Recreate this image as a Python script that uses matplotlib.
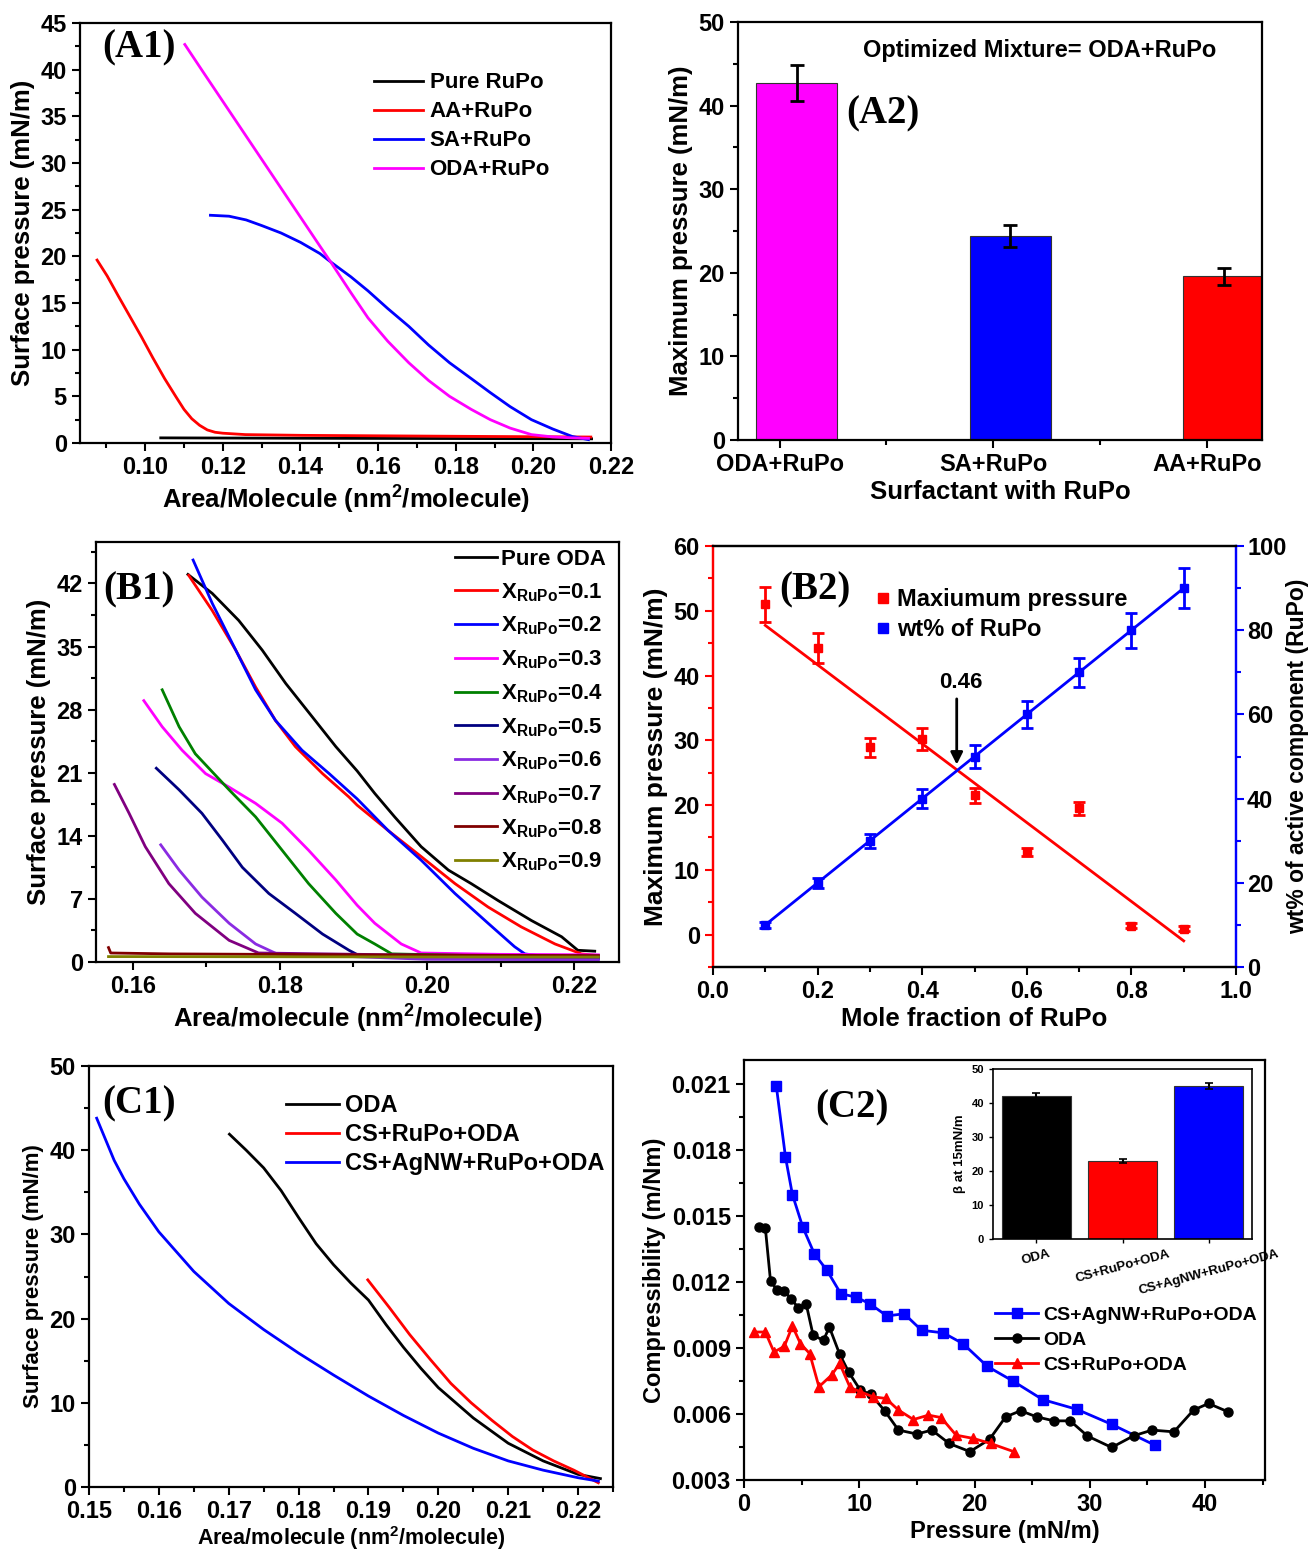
import matplotlib
matplotlib.use("Agg")
import numpy as np
import matplotlib.pyplot as plt
from matplotlib.ticker import MultipleLocator, FormatStrFormatter
from matplotlib.lines import Line2D

plt.rcParams.update({
    "font.family": ["Liberation Sans", "DejaVu Sans"],
    "font.weight": "bold",
    "axes.labelweight": "bold",
    "mathtext.fontset": "custom",
    "mathtext.rm": "Liberation Sans:bold",
    "mathtext.bf": "Liberation Sans:bold",
    "mathtext.it": "Liberation Sans:bold",
    "mathtext.default": "bf",
    "axes.linewidth": 1.6,
})

# ---------------- (A1) data ----------------
a1_pure_x = [0.104, 0.150, 0.215]
a1_pure_y = [0.55, 0.50, 0.45]
a1_aa_x = [0.0876, 0.0902, 0.0930, 0.0960, 0.0990, 0.1020, 0.1050, 0.1080, 0.1100,
           0.1120, 0.1140, 0.1160, 0.1180, 0.1200, 0.1258, 0.1405, 0.1800, 0.2148]
a1_aa_y = [19.6, 17.9, 15.8, 13.6, 11.4, 9.1, 6.9, 4.9, 3.6, 2.6, 1.9, 1.4, 1.15, 1.05,
           0.9, 0.82, 0.72, 0.64]
a1_sa_x = [0.1168, 0.1216, 0.1260, 0.1300, 0.1350, 0.1400, 0.1450, 0.1481, 0.1530,
           0.1574, 0.1625, 0.1679, 0.1730, 0.1784, 0.1840, 0.1889, 0.1940, 0.1995,
           0.2050, 0.2100, 0.2142]
a1_sa_y = [24.4, 24.3, 23.9, 23.3, 22.5, 21.5, 20.3, 19.3, 17.8, 16.3, 14.4, 12.5,
           10.5, 8.6, 6.9, 5.4, 3.9, 2.5, 1.5, 0.7, 0.36]
a1_oda_x = [0.1102, 0.1150, 0.1200, 0.1250, 0.1300, 0.1350, 0.1400, 0.1450, 0.1481,
            0.1530, 0.1574, 0.1625, 0.1679, 0.1730, 0.1784, 0.1840, 0.1889, 0.1940,
            0.1995, 0.2050, 0.2100, 0.2142]
a1_oda_y = [42.7, 39.7, 36.6, 33.5, 30.4, 27.3, 24.2, 21.1, 19.2, 16.1, 13.4, 10.9,
            8.6, 6.7, 5.0, 3.6, 2.5, 1.6, 0.9, 0.65, 0.55, 0.5]

# ---------------- (A2) data ----------------
a2_labels = ["ODA+RuPo", "SA+RuPo", "AA+RuPo"]
a2_values = [42.7, 24.4, 19.6]
a2_errors = [2.2, 1.3, 1.0]
a2_colors = ["#FF00FF", "#0000FF", "#FF0000"]

# ---------------- (B1) data ----------------
b1_labels = ["Pure ODA"] + [r"$X_{RuPo}$=0.%d" % i for i in range(1, 10)]
b1_colors = ["#000000", "#FF0000", "#0000FF", "#FF00FF", "#008000", "#000080",
             "#8A2BE2", "#800080", "#800000", "#808000"]
b1_x = [
    [0.1675, 0.1708, 0.1744, 0.1776, 0.1808, 0.1844, 0.1876, 0.1905, 0.1929, 0.1956,
     0.1992, 0.2029, 0.2060, 0.2097, 0.2142, 0.2183, 0.2205, 0.2228],
    [0.1676, 0.1708, 0.1740, 0.1767, 0.1794, 0.1821, 0.1858, 0.1894, 0.1905, 0.1947,
     0.1992, 0.2038, 0.2083, 0.2128, 0.2174, 0.2210, 0.2228],
    [0.1682, 0.1708, 0.1740, 0.1767, 0.1794, 0.1830, 0.1867, 0.1905, 0.1947, 0.1992,
     0.2038, 0.2083, 0.2119, 0.2133, 0.2180, 0.2233],
    [0.1615, 0.1640, 0.1667, 0.1699, 0.1731, 0.1767, 0.1803, 0.1839, 0.1876, 0.1905,
     0.1929, 0.1965, 0.1992, 0.2100, 0.2233],
    [0.1640, 0.1663, 0.1685, 0.1731, 0.1767, 0.1803, 0.1839, 0.1876, 0.1905, 0.1929,
     0.1952, 0.2100, 0.2233],
    [0.1632, 0.1663, 0.1694, 0.1722, 0.1749, 0.1785, 0.1821, 0.1858, 0.1894, 0.1908,
     0.2050, 0.2233],
    [0.1638, 0.1663, 0.1694, 0.1731, 0.1767, 0.1796, 0.2000, 0.2233],
    [0.1575, 0.1595, 0.1617, 0.1649, 0.1685, 0.1731, 0.1771, 0.2000, 0.2233],
    [0.1567, 0.1570, 0.1650, 0.1900, 0.2233],
    [0.1567, 0.1600, 0.1800, 0.2000, 0.2233],
]
b1_y = [
    [43.0, 40.9, 37.9, 34.6, 30.9, 27.2, 23.9, 21.2, 18.7, 16.1, 12.8, 10.2, 8.7, 6.8,
     4.6, 2.8, 1.3, 1.2],
    [42.9, 39.0, 34.6, 30.5, 26.8, 23.9, 20.9, 18.3, 17.4, 14.6, 11.7, 8.7, 6.1, 3.9,
     2.0, 0.9, 0.75],
    [44.6, 39.8, 34.6, 30.2, 26.8, 23.5, 20.9, 18.1, 14.6, 11.3, 7.6, 4.3, 1.7, 0.9,
     0.4, 0.35],
    [29.0, 26.1, 23.5, 20.9, 19.4, 17.6, 15.4, 12.4, 9.1, 6.3, 4.3, 2.0, 1.0, 0.85, 0.8],
    [30.2, 26.1, 23.1, 19.1, 16.1, 12.4, 8.7, 5.4, 3.1, 2.0, 0.9, 0.65, 0.6],
    [21.5, 19.1, 16.5, 13.5, 10.5, 7.6, 5.4, 3.1, 1.3, 0.7, 0.5, 0.45],
    [13.0, 10.2, 7.2, 4.3, 2.0, 0.9, 0.3, 0.25],
    [19.7, 16.5, 12.8, 8.7, 5.4, 2.4, 1.0, 0.75, 0.7],
    [1.6, 1.0, 0.9, 0.8, 0.7],
    [0.6, 0.6, 0.58, 0.56, 0.55],
]

# ---------------- (B2) data ----------------
b2_x = [0.1, 0.2, 0.3, 0.4, 0.5, 0.6, 0.7, 0.8, 0.9]
b2_press = [51.0, 44.3, 28.9, 30.2, 21.5, 12.8, 19.5, 1.4, 0.9]
b2_press_err = [2.7, 2.3, 1.5, 1.7, 1.2, 0.6, 1.0, 0.4, 0.4]
b2_wt = [10, 20, 30, 40, 50, 60, 70, 80, 90]
b2_wt_err = [0.8, 1.2, 1.7, 2.2, 2.8, 3.2, 3.5, 4.2, 4.7]
b2_cross = 0.46

# ---------------- (C1) data ----------------
c1_oda_x = [0.1701, 0.1725, 0.1750, 0.1775, 0.1800, 0.1825, 0.1850, 0.1875, 0.1900,
            0.1925, 0.1950, 0.1975, 0.2000, 0.2050, 0.2100, 0.2150, 0.2200, 0.2232]
c1_oda_y = [41.9, 40.0, 37.9, 35.2, 32.0, 28.9, 26.4, 24.2, 22.2, 19.3, 16.6, 14.1,
            11.8, 8.2, 5.2, 3.1, 1.5, 1.0]
c1_rupo_x = [0.1899, 0.1930, 0.1959, 0.1989, 0.2018, 0.2047, 0.2077, 0.2106, 0.2135,
             0.2165, 0.2194, 0.2229]
c1_rupo_y = [24.6, 21.3, 18.1, 15.1, 12.3, 10.0, 7.9, 6.0, 4.4, 3.1, 2.0, 0.5]
c1_agnw_x = [0.1511, 0.1536, 0.1550, 0.1572, 0.1600, 0.1650, 0.1700, 0.1750, 0.1800,
             0.1850, 0.1900, 0.1950, 0.2000, 0.2050, 0.2100, 0.2150, 0.2200, 0.2229]
c1_agnw_y = [43.8, 38.8, 36.6, 33.6, 30.3, 25.6, 21.8, 18.7, 15.9, 13.3, 10.8, 8.5,
             6.4, 4.6, 3.1, 2.0, 1.1, 0.7]

# ---------------- (C2) data ----------------
c2_agnw_x = [2.8, 3.6, 4.2, 5.1, 6.1, 7.2, 8.4, 9.7, 10.9, 12.4, 13.9, 15.4, 17.3, 19.0,
             21.1, 23.3, 25.9, 28.9, 31.9, 35.7]
c2_agnw_y = [0.02093, 0.01768, 0.01598, 0.0145, 0.01329, 0.01253, 0.01147, 0.01132,
             0.01102, 0.01046, 0.01056, 0.00981, 0.00969, 0.0092, 0.00817, 0.00751,
             0.00666, 0.00621, 0.00553, 0.00457]
c2_oda_x = [1.26, 1.85, 2.3, 2.9, 3.5, 4.1, 4.7, 5.4, 6.0, 6.9, 7.4, 8.3, 9.1, 10.1, 11.0,
            12.2, 13.4, 15.0, 16.3, 17.8, 19.6, 21.3, 22.7, 24.0, 25.4, 26.9, 28.3, 29.8,
            31.9, 33.8, 35.4, 37.3, 39.0, 40.3, 42.0]
c2_oda_y = [0.0145, 0.01447, 0.01205, 0.01162, 0.01159, 0.01123, 0.01084, 0.01099,
            0.00958, 0.00935, 0.00996, 0.00872, 0.00789, 0.00708, 0.0069, 0.00615,
            0.00527, 0.00509, 0.00527, 0.00466, 0.00429, 0.00485, 0.00587, 0.00615,
            0.00587, 0.00569, 0.00569, 0.005, 0.00448, 0.00501, 0.00527, 0.00519,
            0.00618, 0.00648, 0.0061]
c2_rupo_x = [0.85, 1.85, 2.6, 3.5, 4.2, 4.9, 5.7, 6.5, 7.6, 8.3, 9.2, 10.1, 11.2, 12.3,
             13.4, 14.7, 16.0, 17.1, 18.4, 19.9, 21.4, 23.4]
c2_rupo_y = [0.00973, 0.00973, 0.00882, 0.00908, 0.0100, 0.0092, 0.00875, 0.00724,
             0.00777, 0.0083, 0.00721, 0.00701, 0.00678, 0.00671, 0.00618, 0.00575,
             0.00595, 0.00584, 0.00504, 0.00489, 0.00466, 0.00429]
inset_labels = ["ODA", "CS+RuPo+ODA", "CS+AgNW+RuPo+ODA"]
inset_values = [42.0, 23.0, 45.0]
inset_errors = [0.8, 0.5, 1.0]
inset_colors = ["#000000", "#FF0000", "#0000FF"]

# ======================================================
W, H = 1310, 1554
fig = plt.figure(figsize=(W / 100, H / 100), dpi=100)


def box(l, r, t, b):
    return [l / W, 1 - b / H, (r - l) / W, (b - t) / H]


TICK = 17
LAB = 18.5


def style(ax, xmaj, xmin, ymaj, ymin):
    ax.xaxis.set_major_locator(MultipleLocator(xmaj))
    ax.xaxis.set_minor_locator(MultipleLocator(xmin))
    ax.yaxis.set_major_locator(MultipleLocator(ymaj))
    ax.yaxis.set_minor_locator(MultipleLocator(ymin))
    ax.tick_params(which="major", direction="out", length=6, width=1.5, labelsize=TICK)
    ax.tick_params(which="minor", direction="out", length=3.5, width=1.5)
    ax.tick_params(which="both", top=False, right=False)


panel_font = dict(family=["Liberation Serif", "DejaVu Serif"], fontweight="bold", fontsize=28)

# ---- A1 ----
ax = fig.add_axes(box(80, 611, 23, 443))
ax.plot(a1_pure_x, a1_pure_y, color="black", lw=2, label="Pure RuPo")
ax.plot(a1_aa_x, a1_aa_y, color="#FF0000", lw=2, label="AA+RuPo")
ax.plot(a1_sa_x, a1_sa_y, color="#0000FF", lw=2, label="SA+RuPo")
ax.plot(a1_oda_x, a1_oda_y, color="#FF00FF", lw=2, label="ODA+RuPo")
ax.set_xlim(0.0832, 0.22)
ax.set_ylim(0, 45)
style(ax, 0.02, 0.01, 5, 2.5)
ax.xaxis.set_major_formatter(FormatStrFormatter("%.2f"))
ax.set_xlabel(r"Area/Molecule (nm$^{2}$/molecule)", fontsize=LAB, labelpad=3)
ax.set_ylabel("Surface pressure (mN/m)", fontsize=LAB)
ax.text(0.112, 0.94, "(A1)", transform=ax.transAxes, ha="center", va="center", **panel_font)
ax.legend(loc="upper left", bbox_to_anchor=(0.516, 0.93), frameon=False, fontsize=16,
          handlelength=2.2, labelspacing=0.36, handletextpad=0.3)

# ---- A2 ----
ax = fig.add_axes(box(738, 1262, 22, 440))
pos = np.arange(1, len(a2_values) + 1)
ax.bar(pos + 0.08, a2_values, width=0.38, color=a2_colors, edgecolor="#333333", linewidth=0.8)
ax.errorbar(pos + 0.08, a2_values, yerr=a2_errors, fmt="none", ecolor="black",
            elinewidth=2, capsize=5, capthick=2)
ax.set_xlim(0.805, 3.258)
ax.set_ylim(0, 50)
style(ax, 1, 0.5, 10, 5)
ax.set_xticks(pos)
ax.set_xticklabels(a2_labels)
ax.set_xlabel("Surfactant with RuPo", fontsize=LAB, labelpad=3)
ax.set_ylabel("Maximum pressure (mN/m)", fontsize=LAB)
ax.text(0.575, 0.932, "Optimized Mixture= ODA+RuPo", transform=ax.transAxes,
        ha="center", va="center", fontsize=17)
ax.text(0.276, 0.78, "(A2)", transform=ax.transAxes, ha="center", va="center", **panel_font)

# ---- B1 ----
ax = fig.add_axes(box(96, 619, 542, 962))
for xs, ys, c, lab in zip(b1_x, b1_y, b1_colors, b1_labels):
    ax.plot(xs, ys, color=c, lw=2, label=lab)
ax.set_xlim(0.155, 0.2261)
ax.set_ylim(0, 46.6)
style(ax, 0.02, 0.01, 7, 3.5)
ax.xaxis.set_major_formatter(FormatStrFormatter("%.2f"))
ax.set_xlabel(r"Area/molecule (nm$^{2}$/molecule)", fontsize=LAB, labelpad=3)
ax.set_ylabel("Surface pressure (mN/m)", fontsize=LAB)
ax.text(0.082, 0.885, "(B1)", transform=ax.transAxes, ha="center", va="center", **panel_font)
ax.legend(loc="upper right", bbox_to_anchor=(1.0, 1.015), frameon=False, fontsize=16,
          handlelength=1.9, labelspacing=0.5, handletextpad=0.15, borderaxespad=0.2)

# ---- B2 ----
ax = fig.add_axes(box(713, 1236, 546, 967))
ax2 = ax.twinx()
ax.errorbar(b2_x, b2_press, yerr=b2_press_err, fmt="s", color="#FF0000", ms=6,
            elinewidth=2, capsize=4, capthick=2)
ax2.errorbar(b2_x, b2_wt, yerr=b2_wt_err, fmt="s", color="#0000FF", ms=6,
             elinewidth=2, capsize=4, capthick=2)
k1, c1 = np.polyfit(b2_x, b2_press, 1)
k2, c2 = np.polyfit(b2_x, b2_wt, 1)
xx = np.array([b2_x[0], b2_x[-1]])
ax.plot(xx, k1 * xx + c1, color="#FF0000", lw=2)
ax2.plot(xx, k2 * xx + c2, color="#0000FF", lw=2)
ax.set_xlim(0, 1.0)
ax.set_ylim(-5, 60)
ax2.set_ylim(0, 100)
style(ax, 0.2, 0.1, 10, 5)
ax.xaxis.set_major_formatter(FormatStrFormatter("%.1f"))
ax2.yaxis.set_major_locator(MultipleLocator(20))
ax2.yaxis.set_minor_locator(MultipleLocator(10))
ax2.tick_params(which="major", direction="out", length=6, width=1.5, labelsize=TICK,
                colors="#0000FF", labelcolor="black", pad=2)
ax2.tick_params(which="minor", direction="out", length=3.5, width=1.5, colors="#0000FF")
ax.tick_params(axis="y", which="both", colors="#FF0000", labelcolor="black")
for a in (ax, ax2):
    a.spines["left"].set_color("#FF0000")
    a.spines["right"].set_color("#0000FF")
ax.set_xlabel("Mole fraction of RuPo", fontsize=LAB, labelpad=3)
ax.set_ylabel("Maximum pressure (mN/m)", fontsize=19)
ax2.set_ylabel("wt% of active component (RuPo)", fontsize=16.5, labelpad=0)
y_cross = k1 * b2_cross + c1
ax.annotate("", xy=(b2_cross + 0.006, y_cross), xytext=(b2_cross + 0.006, y_cross + 11),
            arrowprops=dict(arrowstyle="-|>", color="black", lw=2, mutation_scale=18))
ax.text(b2_cross + 0.014, y_cross + 11.5, "%.2f" % b2_cross, ha="center", va="bottom", fontsize=16)
ax.text(0.195, 0.895, "(B2)", transform=ax.transAxes, ha="center", va="center", **panel_font)
hs = [Line2D([], [], ls="none", marker="s", color="#FF0000", ms=7),
      Line2D([], [], ls="none", marker="s", color="#0000FF", ms=7)]
ax.legend(hs, ["Maxiumum pressure", "wt% of RuPo"], loc="upper left",
          bbox_to_anchor=(0.27, 0.95), frameon=False, fontsize=17, handlelength=0.6,
          handletextpad=0.3, labelspacing=0.28)

# ---- C1 ----
ax = fig.add_axes(box(89, 613, 1066, 1487))
ax.plot(c1_oda_x, c1_oda_y, color="black", lw=2, label="ODA")
ax.plot(c1_rupo_x, c1_rupo_y, color="#FF0000", lw=2, label="CS+RuPo+ODA")
ax.plot(c1_agnw_x, c1_agnw_y, color="#0000FF", lw=2, label="CS+AgNW+RuPo+ODA")
ax.set_xlim(0.15, 0.225)
ax.set_ylim(0, 50)
style(ax, 0.01, 0.005, 10, 5)
ax.xaxis.set_major_formatter(FormatStrFormatter("%.2f"))
ax.set_xlabel(r"Area/molecule (nm$^{2}$/molecule)", fontsize=15.5, labelpad=1)
ax.set_ylabel("Surface pressure (mN/m)", fontsize=16)
ax.text(0.095, 0.911, "(C1)", transform=ax.transAxes, ha="center", va="center", **panel_font)
ax.legend(loc="upper left", bbox_to_anchor=(0.336, 0.984), frameon=False, fontsize=17,
          handlelength=2.25, labelspacing=0.25, handletextpad=0.25)

# ---- C2 ----
ax = fig.add_axes(box(744, 1265, 1060, 1480))
ax.plot(c2_agnw_x, c2_agnw_y, color="#0000FF", lw=2, marker="s", ms=7,
        label="CS+AgNW+RuPo+ODA")
ax.plot(c2_oda_x, c2_oda_y, color="black", lw=2, marker="o", ms=6.5, label="ODA")
ax.plot(c2_rupo_x, c2_rupo_y, color="#FF0000", lw=2, marker="^", ms=7.5, label="CS+RuPo+ODA")
ax.set_xlim(0, 45.2)
ax.set_ylim(0.003, 0.0221)
style(ax, 10, 5, 0.003, 0.0015)
ax.yaxis.set_major_formatter(FormatStrFormatter("%.3f"))
ax.set_xlabel("Pressure (mN/m)", fontsize=17, labelpad=3)
ax.set_ylabel("Compressibility (m/Nm)", fontsize=17)
ax.text(0.207, 0.885, "(C2)", transform=ax.transAxes, ha="center", va="center", **panel_font)
ax.legend(loc="upper left", bbox_to_anchor=(0.4485, 0.456), frameon=False, fontsize=14,
          handlelength=2.2, labelspacing=0.39, handletextpad=0.25)

# inset
axi = fig.add_axes(box(993, 1252, 1069, 1239))
ipos = np.arange(1, len(inset_values) + 1)
axi.bar(ipos, inset_values, width=0.8, color=inset_colors, edgecolor="#333333", linewidth=0.8)
axi.errorbar(ipos, inset_values, yerr=inset_errors, fmt="none", ecolor="black",
             elinewidth=1.5, capsize=3, capthick=1.2)
axi.set_xlim(0.5, 3.5)
axi.set_ylim(0, 50)
axi.yaxis.set_major_locator(MultipleLocator(10))
axi.set_xticks(ipos)
axi.set_xticklabels(inset_labels, rotation=15, ha="center", fontsize=9.5)
axi.tick_params(axis="y", labelsize=8, length=3, width=1)
axi.tick_params(axis="x", length=3, width=1)
for s in axi.spines.values():
    s.set_linewidth(1.2)
axi.set_ylabel("β at 15mN/m", fontsize=9.5)

fig.savefig("out.png", dpi=100)
